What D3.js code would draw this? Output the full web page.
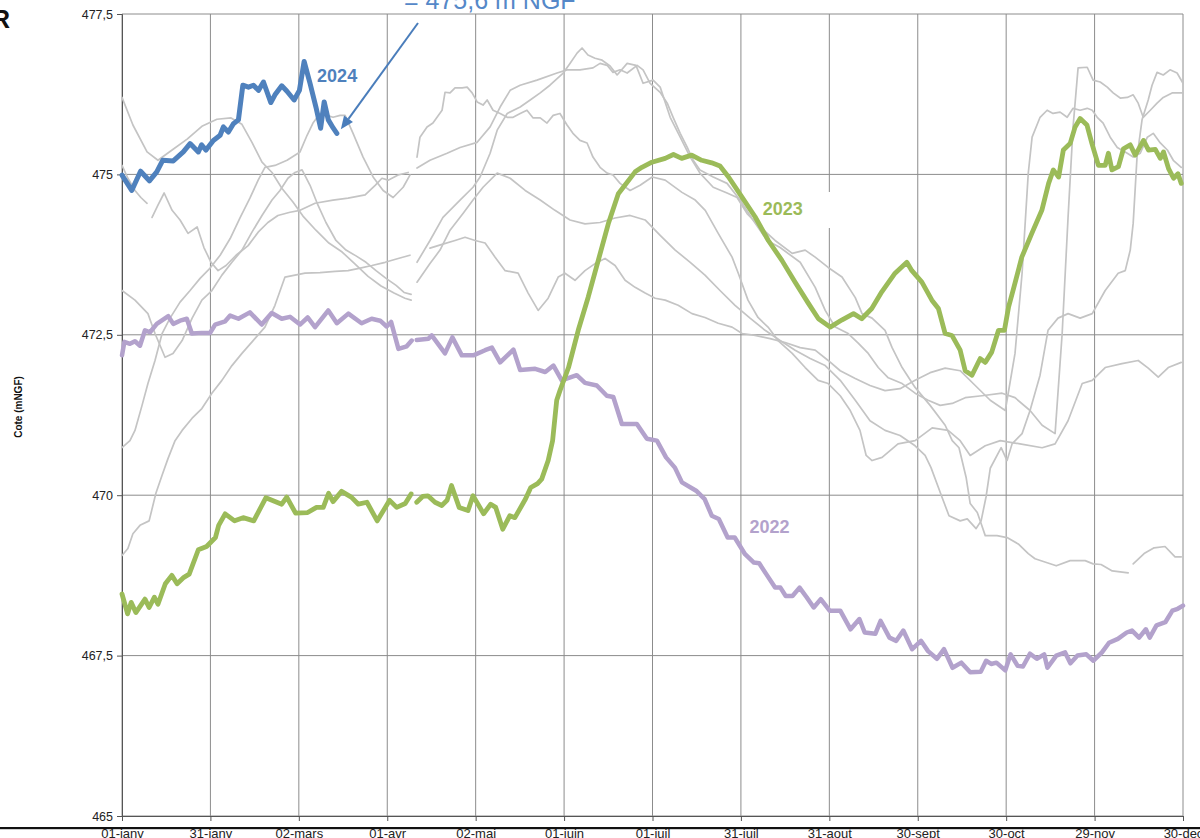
<!DOCTYPE html>
<html><head><meta charset="utf-8">
<script src="https://cdn.jsdelivr.net/npm/d3@7"></script>
<style>body{margin:0;background:#fff;overflow:hidden}svg{display:block}</style>
</head><body>
<svg id="c" width="1200" height="838"></svg>
<script>
// ---------------- DATA ----------------
const dayTicks = [0,30,60,90,120,150,180,210,240,270,300,330,360];
const dayLabels = ["01-janv","31-janv","02-mars","01-avr","02-mai","01-juin","01-juil","31-juil","31-aout","30-sept","30-oct","29-nov","30-dec"];
const levelTicks = [465,467.5,470,472.5,475,477.5];

// [day of year, level mNGF]; null = missing data
const s2024 = [[0,474.99],[3.3,474.75],[6.3,475.05],[9.3,474.90],[11.8,475.04],[13.8,475.22],[17.4,475.21],[20.8,475.35],[23.1,475.48],[25.9,475.35],[27,475.46],[28.5,475.38],[31,475.53],[33.3,475.61],[34.4,475.74],[36.1,475.66],[37.8,475.79],[39.5,475.85],[41,476.39],[42.9,476.36],[44.6,476.39],[46.3,476.31],[48,476.44],[50.5,476.12],[51.9,476.24],[54.2,476.38],[55.9,476.30],[58.4,476.16],[60.2,476.31],[61.8,476.76],[63.8,476.42],[65.8,476.05],[67.4,475.72],[68.6,476.13],[70,475.85],[71.7,475.72],[72.9,475.64]];

const s2023 = [[0,468.46],[1.9,468.15],[3.1,468.33],[4.7,468.17],[7.8,468.38],[9.2,468.25],[11,468.41],[12.2,468.30],[14.7,468.62],[16.9,468.75],[18.7,468.62],[21,468.72],[22.8,468.77],[25.9,469.15],[28.7,469.20],[31.7,469.34],[32.8,469.53],[35,469.71],[38.2,469.60],[41.1,469.65],[44.7,469.60],[48.8,469.96],[54.2,469.86],[55.9,469.97],[58.9,469.72],[63,469.73],[66,469.81],[68.3,469.81],[70.1,470.03],[71.6,469.90],[74.5,470.06],[77.8,469.97],[80.2,469.86],[83.1,469.89],[86.6,469.60],[90.8,469.92],[93.2,469.81],[96.1,469.87],[98.1,470.02],null,[100,469.89],[102,469.98],[103.8,469.99],[106.2,469.89],[108.5,469.84],[110.3,469.92],[111.8,470.15],[114.4,469.81],[117.4,469.76],[119.1,469.99],[122.7,469.71],[125.1,469.86],[126.8,469.81],[129.2,469.47],[131.6,469.68],[133.3,469.65],[136.9,469.94],[138.7,470.12],[141,470.18],[142.4,470.25],[144.6,470.54],[146.1,470.85],[147.5,471.48],[148.6,471.63],[151.5,471.99],[154.8,472.57],[158.2,473.09],[161.6,473.66],[165,474.23],[168.4,474.70],[170.1,474.80],[174.1,475.04],[176.4,475.11],[179.8,475.19],[184.3,475.25],[187.1,475.31],[189.9,475.25],[193.3,475.30],[196.7,475.22],[200.1,475.18],[202.9,475.13],[205.8,474.96],[210.3,474.65],[214.8,474.34],[219.3,473.97],[223.9,473.66],[228.4,473.32],[232.9,472.99],[236.3,472.75],[240.3,472.62],[244.2,472.73],[248.2,472.83],[251,472.75],[254.4,472.91],[257.8,473.17],[262.3,473.46],[266.3,473.63],[268,473.50],[271.4,473.32],[274.8,473.04],[277,472.91],[279.3,472.52],[281.6,472.49],[284.4,472.26],[286.1,471.94],[288.4,471.87],[291.2,472.13],[292.9,472.07],[295.1,472.23],[297.4,472.57],[299.4,472.57],[300.8,472.93],[302.5,473.22],[305.3,473.71],[308.7,474.08],[312.1,474.44],[314.4,474.86],[316,475.07],[317.8,474.96],[319.4,475.38],[321.7,475.48],[323.4,475.74],[325.1,475.87],[327.4,475.77],[329.1,475.48],[331.3,475.14],[333.6,475.14],[334.7,475.33],[335.9,475.07],[338.1,475.12],[339.8,475.40],[342.1,475.46],[343.8,475.30],[346.6,475.53],[348.3,475.38],[350.6,475.39],[352.3,475.25],[353.4,475.35],[355.1,475.09],[356.8,474.94],[358.3,475.01],[359.4,474.86]];

const s2022 = [[0,472.18],[0.8,472.39],[2.7,472.36],[4.4,472.40],[6.1,472.33],[7.8,472.57],[9.5,472.54],[11.8,472.67],[15.7,472.79],[17.4,472.67],[19.7,472.72],[22,472.75],[23.7,472.52],[27,472.53],[29.9,472.53],[31.6,472.66],[35,472.71],[36.7,472.80],[39.5,472.75],[43.4,472.85],[47.4,472.66],[50.8,472.84],[54.2,472.75],[57,472.78],[60.4,472.66],[63,472.77],[65.5,472.62],[70,472.88],[72.9,472.68],[76.8,472.83],[81.3,472.68],[84.7,472.75],[87.6,472.72],[89.8,472.63],[91.3,472.70],[93.8,472.28],[96.6,472.32],[98.3,472.41],null,[100,472.42],[104,472.44],[105.1,472.49],[109.6,472.21],[112.1,472.46],[115.3,472.18],[119.2,472.18],[123.2,472.26],[125.5,472.30],[128.3,472.07],[132.8,472.27],[135.1,471.95],[140.2,471.97],[143.6,471.92],[146.4,472.02],[149.2,471.79],[154.3,471.87],[157.1,471.75],[161.1,471.71],[164.5,471.55],[166.7,471.53],[169.6,471.11],[174.7,471.11],[178.1,470.88],[181.5,470.85],[184.6,470.59],[187.6,470.43],[190,470.20],[194.8,470.07],[197.7,469.94],[200.1,469.68],[202.5,469.63],[205.5,469.34],[207.9,469.34],[211.4,469.08],[214.4,468.95],[216.2,468.94],[218.6,468.77],[221.6,468.56],[223.4,468.56],[225.2,468.43],[227.5,468.43],[229.9,468.56],[232.3,468.41],[234.7,468.25],[237.1,468.38],[240.1,468.20],[243.7,468.20],[247.2,467.91],[250.2,468.07],[252,467.86],[255.6,467.84],[257.4,468.04],[260.4,467.78],[262.7,467.73],[265.1,467.89],[268.1,467.60],[271.1,467.73],[273.5,467.57],[276.5,467.45],[278.9,467.60],[281.8,467.31],[284.8,467.39],[287.8,467.24],[291.4,467.25],[293.2,467.42],[294.9,467.37],[296.7,467.39],[299.7,467.27],[301.5,467.52],[303.9,467.34],[305.7,467.33],[308.1,467.53],[310.4,467.45],[312.9,467.52],[314,467.31],[317,467.50],[320,467.55],[321.8,467.38],[324.2,467.50],[327.2,467.52],[329.6,467.42],[332.5,467.55],[334.9,467.70],[337.9,467.76],[340.9,467.86],[342.7,467.89],[345.1,467.78],[347.4,467.91],[348.7,467.78],[351,467.97],[354,468.02],[356.4,468.20],[358.2,468.23],[360,468.28]];

// previous years (grey)
const hist1 = [[0,476.20],[3.7,475.77],[8.5,475.35],[12.2,475.22],[17,475.38],[22.1,475.55],[27.1,475.75],[32.2,475.86],[37,475.88],[40.7,475.78],[44.1,475.50],[47.5,475.19],[50.9,475.03],[54.3,474.78],[58,474.57],[61.4,474.35],[65.8,474.13],[70.2,473.93],[74.7,473.79],[79.1,473.60],[83.5,473.41],[87.9,473.26],[92.3,473.15],[96,473.07],[98.1,473.04],null,[100.1,473.32],[104.5,473.61],[107.9,473.82],[111.3,474.13],[115.7,474.39],[119.1,474.60],[122.5,474.80],[127.3,475.02],[131.7,474.94],[136.8,474.75],[141.9,474.60],[146.9,474.44],[152,474.29],[157.1,474.23],[162.2,474.25],[167.3,474.32],[172.4,474.36],[177.5,474.29],[182.6,474.05],[187.7,473.82],[192.8,473.63],[197.8,473.43],[202.9,473.19],[208,472.96],[213.1,472.76],[218.2,472.57],[223.3,472.41],[228.4,472.26],[233.5,472.13],[238.6,472.02],[243.7,471.79],[248.8,471.48],[253.8,471.16],[258.9,471.01],[264,470.93],[269.1,470.77],[272.5,470.62],[274.5,470.43],[278.3,469.96],[280.6,469.68],[284.4,469.60],[286.8,469.63],[289.8,469.48],[291.5,469.60],[293.2,469.98],[294.6,470.42],[298.3,470.74],[300.3,470.54],[302,470.80],[305.4,470.96],[308.1,471.32],[311.5,471.87],[314.2,472.57],[317.6,472.76],[321,472.83],[325.1,472.76],[329.2,472.83],[333.6,473.19],[338,473.46],[340.4,473.50],[342.1,473.82],[343.1,474.24],[344.4,475.27],[346.1,475.85],[348.2,476.16],[349.5,476.39],[351.2,476.59],[353.3,476.55],[355.6,476.63],[358,476.58],[360,476.42]];

const hist2 = [[0,475.14],[2,474.94],[4.4,474.75],[6.4,474.64],[8.5,474.55],null,[10.2,474.33],[12.2,474.52],[14.3,474.71],[17,474.44],[19.7,474.29],[22.4,474.08],[25.5,474.18],[27.8,473.86],[30.2,473.63],[32.6,473.50],[35.3,473.58],[38.7,473.74],[42.8,473.89],[46.2,474.10],[49.5,474.25],[52.9,474.36],[57,474.41],[60.4,474.44],[65.5,474.55],[71.6,474.60],[76.7,474.63],[82.5,474.68],[85.9,474.83],[88.2,474.94],[90.3,474.91],[93.7,474.99],[97.1,475.03],null,[100.1,475.10],[104.5,475.22],[110.3,475.33],[114.7,475.42],[120.5,475.50],[124.9,475.74],[128.3,476.05],[131.7,476.31],[135.1,476.39],[140.8,476.47],[147.6,476.58],[151,476.63],[155.4,476.63],[159.8,476.66],[162.2,476.73],[164.6,476.70],[166.6,476.59],[169,476.63],[171.4,476.58],[174.8,476.70],[176.8,476.63],[179.2,476.42],[182.6,476.28],[185,476.11],[187,475.89],[189.4,475.64],[191.8,475.42],[193.8,475.22],[196.1,475.07],[200.6,474.96],[205.3,474.86],[209.7,474.60],[214.1,474.29],[218.9,473.97],[223.3,473.86],[230.1,473.63],[235.2,473.24],[238.6,472.88],[242,472.62],[246.4,472.52],[249.8,472.37],[253.2,472.21],[256.6,471.99],[260,471.83],[264.7,471.74],[269.1,471.59],[273.5,471.48],[277.6,471.40],[281.7,471.43],[286.1,471.52],[291.8,471.55],[298.6,471.59],[303,471.52],[308.1,471.32],[312.2,471.09],[316.6,470.96],[319,472.52],[321,474.33],[322.7,475.74],[324.4,476.66],[327.5,476.67],[329.5,476.47],[331.9,476.44],[334.3,476.36],[336.3,476.27],[338.7,476.19],[341.1,476.20],[343.1,476.24],[344.8,476.11],[346.5,475.89],[348.9,476.00],[351.2,476.11],[353.3,476.20],[356.3,476.27],[360,476.27]];

const hist3 = [[0,470.74],[2.7,470.85],[4.4,471.01],[6.8,471.40],[8.8,471.74],[11.2,472.10],[13.6,472.52],[16.3,472.76],[19.7,473.01],[23.1,473.19],[26.5,473.38],[29.9,473.54],[33.3,473.74],[36.7,474.00],[40,474.32],[43.4,474.63],[46.2,474.91],[48.5,475.11],[51.9,475.14],[56,475.22],[60.4,475.35],[62.8,475.61],[64.8,475.80],[67.2,475.95],[69.6,475.92],[71.6,475.89],[74,475.92],[75.7,475.92],[78.4,475.64],[81.8,475.27],[85.2,474.96],[88.6,474.75],[92,474.64],[95.4,474.80],[97.7,474.99],null,[100.1,475.27],[101.1,475.58],[103.5,475.74],[105.5,475.80],[108.6,476.00],[109.6,476.28],[111.3,476.27],[113,476.35],[115.4,476.35],[117.1,476.36],[118.8,476.27],[120.5,476.13],[122.5,476.08],[123.9,476.16],[125.9,476.00],[128.3,475.95],[130.7,475.89],[132.7,475.89],[135.1,475.95],[137.4,476.00],[139.5,475.88],[141.9,475.88],[144.2,475.80],[146.3,475.92],[148.6,475.95],[151,475.77],[153,475.64],[155.4,475.53],[157.8,475.49],[159.8,475.27],[162.2,475.11],[164.6,475.02],[166.6,474.99],[169,474.86],[172.4,474.75],[175.8,474.83],[179.9,474.96],[184.3,474.91],[190,474.72],[194.5,474.60],[197.9,474.44],[202.3,474.08],[207,473.71],[209.1,473.46],[212.4,473.04],[215.8,472.77],[219.2,472.62],[222.6,472.41],[227.4,472.21],[231.8,471.99],[236.2,471.79],[239.6,471.74],[243.7,471.55],[247.1,471.32],[250.4,471.01],[252.5,470.62],[254.5,470.54],[257.9,470.59],[263.3,470.80],[269.1,470.85],[274.9,471.05],[280.3,471.01],[284.4,470.85],[287.8,470.62],[292.9,470.77],[298,470.85],[304.7,470.80],[312.2,470.74],[316.6,470.80],[321,471.16],[325.8,471.74],[329.2,471.79],[333.6,471.99],[339.3,472.05],[344.8,472.10],[348.2,471.98],[351.6,471.84],[355,471.99],[359.4,472.07]];

const hist4 = [[0,473.19],[4.4,473.04],[8.8,472.83],[11.2,472.52],[14.6,472.15],[17.3,472.21],[20.4,472.41],[23.8,472.76],[27.1,473.04],[30.5,473.19],[33.9,473.43],[37.3,473.63],[40.7,473.82],[44.1,474.10],[47.5,474.36],[50.9,474.60],[53.6,474.75],[56.3,474.94],[58.7,475.03],[61.1,475.07],[63.8,474.83],[66.5,474.52],[69.2,474.25],[72.6,473.97],[76,473.82],[79.4,473.73],[82.8,473.63],[86.2,473.50],[89.6,473.38],[93,473.27],[95.7,473.16],[98.1,473.13],null,[104.5,473.85],[108.6,473.91],[113,473.97],[116.4,474.02],[119.8,473.97],[123.2,473.93],[126.6,473.71],[130,473.50],[134.4,473.46],[137.8,473.15],[141.2,472.88],[144.6,473.07],[148,473.40],[150.3,473.46],[153.7,473.35],[157.1,473.50],[160.5,473.61],[163.9,473.69],[167.3,473.58],[170.7,473.35],[174.1,473.24],[177.5,473.15],[180.9,473.07],[184.3,473.04],[188.7,472.96],[193.4,472.83],[197.8,472.77],[202.3,472.68],[207,472.62],[210.4,472.52],[214.8,472.49],[219.9,472.44],[225,472.38],[230.1,472.30],[235.2,472.26],[239.6,472.10],[243.7,471.94],[248.8,471.82],[253.8,471.71],[258.9,471.63],[264,471.66],[269.1,471.79],[274.2,471.91],[279.3,471.98],[284.4,471.94],[289.5,471.71],[294.6,471.48],[299.7,471.32],[303,472.21],[305.4,473.46],[307.5,475.02],[308.8,475.58],[311.5,475.89],[313.9,476.00],[315.9,475.95],[318.3,475.97],[320.7,475.89],[322.7,476.03],[325.1,476.00],[327.5,476.03],[329.2,476.00],[330.9,475.89],[332.9,475.80],[335.3,475.58],[337.7,475.42],[341.1,475.33],[343.1,475.27],[345.5,475.33],[347.9,475.58],[349.9,475.64],[352.3,475.49],[354.7,475.38],[356.7,475.22],[359.4,475.11]];

const hist5 = [[0,469.06],[2,469.17],[3.7,469.40],[6.1,469.53],[9.2,469.60],[11.5,470.03],[13.6,470.31],[15.6,470.57],[18,470.85],[20.4,471.01],[23.8,471.20],[27.1,471.35],[30.5,471.59],[33.9,471.79],[37.3,472.02],[40.7,472.21],[44.5,472.41],[48.5,472.62],[51.9,472.96],[55.3,473.40],[58.7,473.43],[62.1,473.46],[67.2,473.47],[72.3,473.49],[76.7,473.50],[80.8,473.54],[84.8,473.58],[89.3,473.63],[93.7,473.69],[97.7,473.74],null,[100.1,473.63],[104.5,473.97],[108.9,474.33],[114.7,474.60],[119.1,474.80],[121.5,474.96],[124.9,475.33],[127.3,475.69],[130.7,475.95],[135.1,476.05],[138.5,476.16],[141.9,476.27],[145.2,476.39],[149.7,476.58],[152,476.73],[154.4,476.89],[156.1,476.97],[158.1,476.86],[160.5,476.81],[162.9,476.78],[165.6,476.69],[168,476.55],[171.4,476.73],[174.4,476.70],[176.8,476.42],[180.2,476.47],[182.6,476.36],[186,475.89],[189.4,475.58],[192.8,475.27],[196.1,475.02],[200.6,474.80],[205.3,474.71],[208.7,474.64],[212.1,474.39],[216.5,474.18],[221.6,473.97],[227.4,473.77],[231.8,473.82],[235.2,473.71],[239.6,473.55],[244.3,473.40],[248.8,473.08],[251.1,472.83],[254.5,472.76],[258.9,472.57],[261.3,472.30],[264.7,471.99],[269.1,471.68],[274.2,471.40],[279.3,471.09],[281.7,470.85],[284,470.74],[286.4,470.28],[287.8,469.87],[290.2,469.73],[291.5,469.56],[292.9,469.37],[296.9,469.37],[300.3,469.34],[304.1,469.24],[307.5,469.09],[309.8,469.01],[317,468.90],[321.7,468.98],[326.8,468.98],[329.5,468.93],[332.2,468.92],[336,468.82],[341.4,468.79],null,[343.1,468.93],[346.8,469.09],[350.2,469.18],[353.9,469.20],[357.3,469.04],[359.4,469.04]];

const greySeries = [hist1, hist2, hist3, hist4, hist5];
const annotationText = "= 475,6 m NGF";

// ---------------- DRAW ----------------
const svg = d3.select("#c");
const FONT = "'Liberation Sans', Arial, Helvetica, sans-serif";
const x = d3.scaleLinear().domain([0, 360]).range([122, 1183]);
const y = d3.scaleLinear().domain([465, 477.5]).range([816, 14]);
const fmt = v => String(v).replace(".", ",");

// grid
const grid = svg.append("g").attr("stroke", "#8c8c8c").attr("stroke-width", 1);
dayTicks.forEach(d => grid.append("line").attr("x1", x(d)).attr("x2", x(d)).attr("y1", y(465)).attr("y2", y(477.5)));
levelTicks.forEach(v => grid.append("line").attr("x1", x(0)).attr("x2", x(360)).attr("y1", y(v)).attr("y2", y(v)));

// axes
const yAxis = svg.append("g").attr("transform", `translate(${x(0)},0)`)
  .call(d3.axisLeft(y).tickValues(levelTicks).tickSize(5).tickPadding(4).tickFormat(fmt));
yAxis.attr("font-size", null).attr("font-family", null);
yAxis.select(".domain").attr("stroke", "#555");
yAxis.selectAll(".tick line").attr("stroke", "#555");
yAxis.selectAll("text").style("font-family", FONT).style("font-size", "12.5px").attr("fill", "#222");

const xAxis = svg.append("g").attr("transform", `translate(0,${y(465)})`)
  .call(d3.axisBottom(x).tickValues(dayTicks).tickSize(5).tickFormat((d, i) => dayLabels[i]));
xAxis.attr("font-size", null).attr("font-family", null);
xAxis.select(".domain").attr("stroke", "#555");
xAxis.selectAll(".tick line").attr("stroke", "#555");
xAxis.selectAll("text").style("font-family", FONT).style("font-size", "13px").attr("fill", "#222")
  .attr("dy", null).attr("y", 21.5);

const line = d3.line().defined(d => d !== null).x(d => x(d[0])).y(d => y(d[1])).curve(d3.curveLinear);

// grey lines
const gG = svg.append("g").attr("fill", "none").attr("stroke", "#c4c4c4").attr("stroke-width", 1.7)
  .attr("stroke-linejoin", "round").attr("stroke-linecap", "round");
greySeries.forEach(s => gG.append("path").attr("d", line(s)));

// label box for 2023
svg.append("rect").attr("x", 760).attr("y", 192).attr("width", 72).attr("height", 36).attr("fill", "#fff");

function drawSeries(data, color, w) {
  svg.append("path").attr("d", line(data)).attr("fill", "none").attr("stroke", color)
    .attr("stroke-width", w).attr("stroke-linejoin", "round").attr("stroke-linecap", "round");
}
drawSeries(s2022, "#b3a2cc", 4.5);
drawSeries(s2023, "#9bbb59", 4.8);
drawSeries(s2024, "#4f81bd", 5);

// series labels
const lab = (txt, d, v, col) => svg.append("text").attr("x", x(d)).attr("y", y(v)).text(txt)
  .style("font-family", FONT).style("font-weight", "bold").style("font-size", "18px").attr("fill", col);
lab("2024", 66.2, 476.44, "#4f81bd");
lab("2023", 217.4, 474.36, "#9bbb59");
lab("2022", 212.9, 469.41, "#b3a2cc");

// annotation + arrow
const last = s2024[s2024.length - 1];
const tipX = x(last[0]) + 4, tipY = y(last[1]) - 4;
const sx = 418, sy = 23;
const ang = Math.atan2(tipY - sy, tipX - sx);
const hl = 13, hw = 5.5;
const bx = tipX - hl * Math.cos(ang), by = tipY - hl * Math.sin(ang);
svg.append("line").attr("x1", sx).attr("y1", sy).attr("x2", bx).attr("y2", by)
  .attr("stroke", "#4a7dbb").attr("stroke-width", 2);
svg.append("path").attr("d", `M${tipX},${tipY}L${bx + hw * Math.sin(ang)},${by - hw * Math.cos(ang)}L${bx - hw * Math.sin(ang)},${by + hw * Math.cos(ang)}Z`)
  .attr("fill", "#4a7dbb");
svg.append("text").attr("x", 404).attr("y", 9).text(annotationText)
  .style("font-family", FONT).style("font-size", "25px").attr("fill", "#5588c8");

// axis title
svg.append("text").attr("transform", "translate(22,407) rotate(-90)").attr("text-anchor", "middle")
  .style("font-family", FONT).style("font-weight", "bold").style("font-size", "10px").attr("fill", "#111")
  .text("Cote (mNGF)");

// corner letter
svg.append("text").attr("x", -8).attr("y", 28).text("R").style("font-family", FONT)
  .style("font-weight", "bold").style("font-size", "25px").attr("fill", "#111");

// bottom frame rule
svg.append("rect").attr("x", 0).attr("y", 827).attr("width", 1200).attr("height", 2.2).attr("fill", "#111");
</script>
</body></html>
